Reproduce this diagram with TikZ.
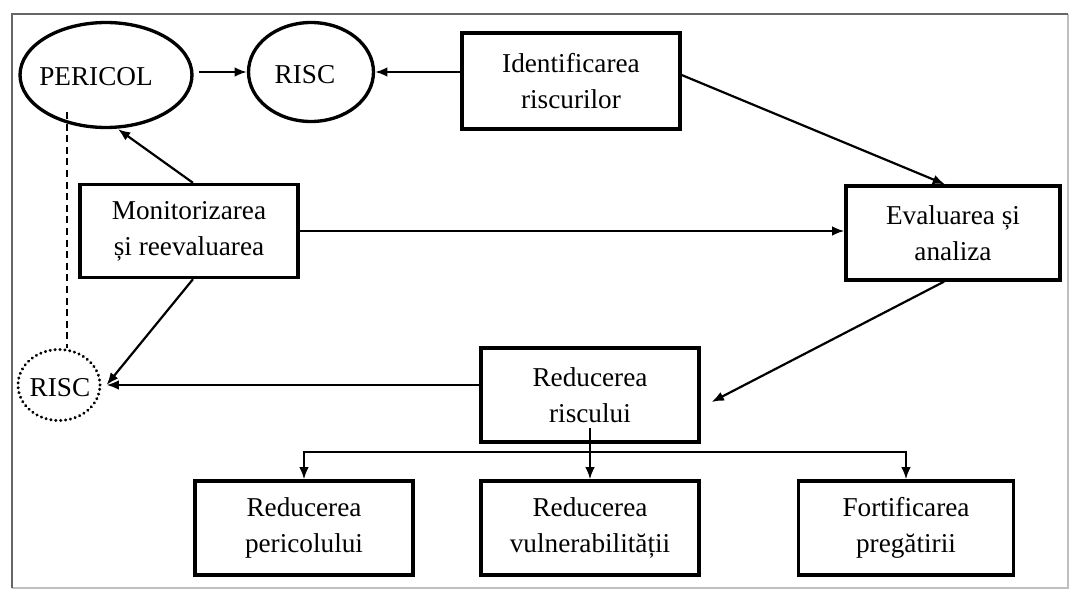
\documentclass[tikz,border=0pt]{standalone}
\usepackage{fontspec}
\setmainfont{Liberation Serif}
\usetikzlibrary{arrows.meta,shapes.geometric,calc}

\tikzset{
  stagebox/.style={draw=black, line width=1.9pt, rectangle, minimum width=4.36cm,
    minimum height=1.88cm, align=center, inner sep=2pt,
    font=\fontsize{15.5}{20.5}\selectfont},
  oval/.style={draw=black, line width=1.9pt, ellipse, inner sep=0pt},
  dotoval/.style={draw=black, line width=1.8pt, ellipse, inner sep=0pt,
    dash pattern=on 0.1pt off 2.7pt, line cap=round},
  ovaltext/.style={font=\fontsize{15.5}{17}\selectfont, inner sep=0pt},
  arr/.style={draw=black, line width=1.25pt, -{Latex[length=7pt,width=5.5pt]}},
  dashline/.style={draw=black, line width=1.5pt, dash pattern=on 4pt off 2.6pt},
  frameline/.style={line width=1.1pt}
}

\begin{document}
\begin{tikzpicture}[x=0.02cm, y=-0.02cm]
  \useasboundingbox (0,0) rectangle (1072,595);
  \fill[white] (0,0) rectangle (1072,595);

  % outer frame
  \draw[frameline, draw=black!25] (1068,14) -- (1068,588) -- (12,588);
  \draw[frameline, draw=black!60] (12,588) -- (12,14) -- (1068,14);

  % hazard and risk ovals
  \node[oval, minimum width=3.44cm, minimum height=2.1cm] (pericol) at (106,75) {};
  \node[ovaltext] (pericoltxt) at (96,77) {PERICOL};
  \node[oval, minimum width=2.5cm, minimum height=1.98cm] (risc) at (311,72) {};
  \node[ovaltext] (risctxt) at (305,75) {RISC};
  \node[dotoval, minimum width=1.64cm, minimum height=1.42cm] (riscrez) at (59,385) {};
  \node[ovaltext] (riscreztxt) at (60,388) {RISC};

  % process stages
  \node[stagebox, minimum height=1.92cm] (ident) at (571,81) {Identificarea\\riscurilor};
  \node[stagebox, minimum height=1.86cm] (monit) at (189,231) {Monitorizarea\\și reevaluarea};
  \node[stagebox, minimum width=4.28cm] (eval) at (953,233) {Evaluarea și\\analiza};
  \node[stagebox] (redrisc) at (590,395) {Reducerea\\riscului};
  \node[stagebox] (redper) at (304,528) {Reducerea\\pericolului};
  \node[stagebox] (redvul) at (590,528) {Reducerea\\vulnerabilității};
  \node[stagebox, minimum width=4.3cm] (fort) at (906,528) {Fortificarea\\pregătirii};

  % connectors in the upper part
  \draw[arr, shorten <=3pt] (pericol.east |- risc.west) -- (risc.west);
  \draw[arr] (ident.west |- risc.east) -- (risc.east);
  \draw[arr] ($(ident.east)+(0,-6)$) -- ($(eval.north)+(-8,0)$);
  \draw[arr] ($(monit.north)+(4,0)$) -- ($(pericol.south)+(12,0)$);
  \draw[arr] (monit.east) -- (eval.west |- monit.east);
  \draw[arr] ($(monit.south)+(4,0)$) -- ($(riscrez.east)+(5,0)$);
  \draw[arr] ($(eval.south)+(-9,0)$) -- ($(redrisc.east)+(11,7)$);
  \draw[arr] (redrisc.west |- riscrez.east) -- ($(riscrez.east)+(5,0)$);

  % dashed link between hazard and residual risk
  \coordinate (dashtop) at (67,112);
  \draw[dashline] (dashtop) -- (dashtop |- riscrez.north);

  % branching into the three reduction measures
  \coordinate (tap) at ($(redrisc.south)+(0,-16)$);
  \coordinate (bus) at (590,452);
  \draw[arr] (tap) -- (redvul.north);
  \draw[arr] (bus) -| (redper.north);
  \draw[arr] (bus) -| (fort.north);
\end{tikzpicture}
\end{document}
